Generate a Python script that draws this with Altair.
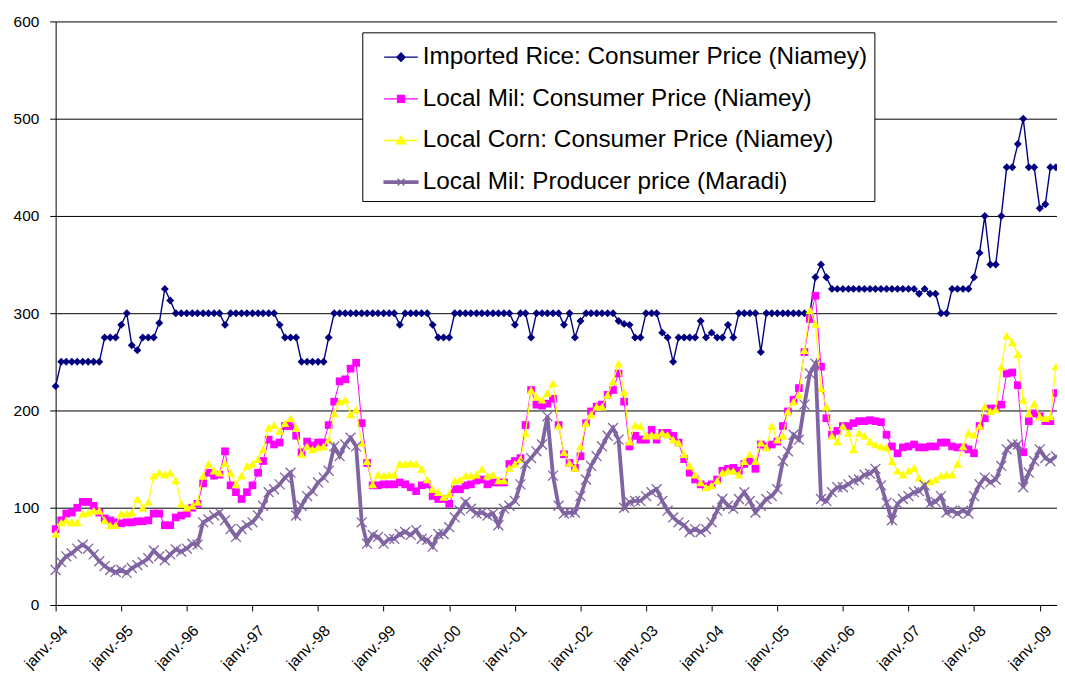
import altair as alt
import pandas as pd

SERIES = [
    "Imported Rice: Consumer Price (Niamey)",
    "Local Mil: Consumer Price (Niamey)",
    "Local Corn: Consumer Price (Niamey)",
    "Local Mil: Producer price (Maradi)",
]
COLORS = ["#000080", "#FF00FF", "#FFFF00", "#8064A2"]

# monthly values, Jan 1994 .. Apr 2009 (one row per year)
RICE = [
    225, 250, 250, 250, 250, 250, 250, 250, 250, 275, 275, 275,
    288, 300, 267, 262, 275, 275, 275, 290, 325, 313, 300, 300,
    300, 300, 300, 300, 300, 300, 300, 288, 300, 300, 300, 300,
    300, 300, 300, 300, 300, 288, 275, 275, 275, 250, 250, 250,
    250, 250, 275, 300, 300, 300, 300, 300, 300, 300, 300, 300,
    300, 300, 300, 288, 300, 300, 300, 300, 300, 288, 275, 275,
    275, 300, 300, 300, 300, 300, 300, 300, 300, 300, 300, 300,
    288, 300, 300, 275, 300, 300, 300, 300, 300, 288, 300, 275,
    292, 300, 300, 300, 300, 300, 300, 292, 289, 288, 275, 275,
    300, 300, 300, 280, 275, 250, 275, 275, 275, 275, 292, 275,
    280, 275, 275, 288, 275, 300, 300, 300, 300, 260, 300, 300,
    300, 300, 300, 300, 300, 300, 300, 337, 350, 337, 325, 325,
    325, 325, 325, 325, 325, 325, 325, 325, 325, 325, 325, 325,
    325, 325, 320, 325, 320, 320, 300, 300, 325, 325, 325, 325,
    337, 362, 400, 350, 350, 400, 450, 450, 474, 500, 450, 450,
    408, 412, 450, 450,
]
MIL_CONSUMER = [
    78, 87, 94, 95, 100, 106, 106, 102, 95, 89, 87, 85,
    84, 85, 85, 86, 86, 87, 94, 94, 82, 82, 90, 92,
    94, 100, 104, 125, 136, 133, 134, 158, 123, 116, 109, 116,
    123, 136, 148, 170, 165, 167, 184, 184, 174, 157, 168, 164,
    167, 167, 185, 209, 230, 232, 243, 249, 187, 146, 123, 123,
    124, 124, 124, 126, 124, 121, 117, 123, 124, 112, 109, 109,
    104, 119, 119, 123, 124, 128, 129, 124, 126, 126, 126, 145,
    148, 151, 185, 221, 206, 205, 207, 212, 185, 155, 146, 141,
    153, 187, 199, 204, 206, 216, 221, 238, 209, 163, 174, 170,
    170, 180, 170, 177, 177, 174, 167, 150, 136, 129, 124, 122,
    124, 129, 138, 140, 141, 138, 145, 148, 140, 165, 163, 165,
    168, 184, 199, 211, 223, 260, 294, 318, 245, 192, 175, 179,
    184, 184, 187, 189, 189, 190, 189, 188, 175, 163, 156, 162,
    163, 165, 162, 162, 163, 163, 167, 167, 163, 162, 162, 160,
    156, 184, 192, 202, 202, 206, 238, 239, 226, 157, 189, 197,
    194, 189, 189, 218,
]
CORN_CONSUMER = [
    73, 85, 87, 85, 85, 94, 95, 97, 97, 87, 82, 82,
    94, 94, 95, 109, 100, 106, 133, 136, 134, 136, 128, 104,
    100, 102, 106, 133, 145, 138, 136, 146, 136, 124, 133, 143,
    145, 150, 160, 182, 185, 179, 187, 192, 182, 155, 163, 160,
    162, 163, 170, 197, 209, 211, 196, 201, 167, 148, 124, 134,
    133, 134, 134, 145, 145, 146, 145, 140, 129, 119, 116, 111,
    114, 128, 129, 133, 133, 134, 140, 133, 134, 128, 128, 141,
    145, 150, 177, 221, 214, 211, 218, 228, 184, 157, 146, 141,
    163, 187, 196, 204, 204, 216, 230, 248, 219, 168, 185, 184,
    174, 175, 174, 177, 175, 170, 167, 155, 143, 134, 126, 121,
    123, 128, 136, 138, 138, 134, 148, 155, 148, 167, 162, 184,
    170, 174, 199, 209, 216, 262, 303, 289, 223, 204, 174, 168,
    184, 177, 160, 177, 174, 168, 165, 163, 162, 148, 138, 134,
    138, 141, 131, 124, 127, 129, 133, 134, 134, 145, 163, 177,
    175, 184, 204, 199, 201, 245, 277, 270, 258, 211, 197, 207,
    194, 192, 194, 245,
]
MIL_PRODUCER = [
    36, 44, 50, 53, 58, 62, 58, 52, 45, 40, 36, 34,
    36, 33, 38, 41, 44, 48, 56, 50, 46, 52, 57, 55,
    58, 63, 62, 85, 88, 92, 95, 87, 78, 70, 78, 82,
    85, 92, 102, 116, 119, 124, 131, 136, 92, 102, 112, 117,
    126, 131, 138, 163, 153, 165, 172, 163, 85, 63, 72, 70,
    63, 68, 68, 73, 75, 72, 77, 68, 67, 60, 73, 73,
    80, 90, 97, 106, 99, 94, 95, 92, 94, 82, 99, 102,
    107, 124, 145, 151, 158, 165, 194, 133, 102, 94, 95, 95,
    112, 129, 143, 153, 163, 174, 182, 170, 100, 106, 107, 107,
    112, 116, 119, 107, 97, 90, 85, 82, 75, 78, 75, 78,
    85, 97, 109, 102, 99, 109, 116, 107, 95, 102, 109, 112,
    119, 148, 158, 175, 170, 206, 238, 248, 109, 107, 116, 121,
    121, 124, 128, 129, 134, 135, 140, 123, 105, 87, 104, 109,
    112, 116, 117, 123, 104, 106, 112, 95, 97, 94, 97, 94,
    112, 124, 131, 126, 129, 143, 160, 165, 165, 121, 136, 148,
    160, 151, 148, 153,
]
TICK_YEARS = list(range(1994, 2010))
TICK_LABELS = ["janv.-%02d" % (y % 100) for y in TICK_YEARS]
Y_TICKS = [0, 100, 200, 300, 400, 500, 600]

MONTHS = pd.date_range("1994-01-01", periods=len(RICE), freq="MS").strftime("%Y-%m-%d").tolist()

rows = []
for name, vals in zip(SERIES, [RICE, MIL_CONSUMER, CORN_CONSUMER, MIL_PRODUCER]):
    assert len(vals) == len(MONTHS), (name, len(vals))
    for d, v in zip(MONTHS, vals):
        rows.append({"date": d, "series": name, "value": v})
df = pd.DataFrame(rows)

FONT = "Liberation Sans"
label_expr = "[" + ",".join("'%s'" % t for t in TICK_LABELS) + "][utcyear(datum.value) - %d]" % TICK_YEARS[0]

x_enc = alt.X(
    "date:T",
    scale=alt.Scale(
        type="utc",
        domain=[alt.DateTime(year=1994, month=1, date=1, utc=True),
                alt.DateTime(year=2009, month=4, date=7, utc=True)],
    ),
    axis=alt.Axis(
        title=None, grid=False,
        values=[alt.DateTime(year=y, month=1, date=1, utc=True) for y in TICK_YEARS],
        labelExpr=label_expr, labelAngle=-45, labelAlign="right", labelBaseline="top",
        labelPadding=12, labelOffset=4, labelFontSize=15.5, labelFont=FONT, labelColor="black",
        labelFlush=False, labelOverlap=False,
        tickSize=6, tickColor="black", domainColor="black", domainWidth=1,
    ),
)
y_enc = alt.Y(
    "value:Q",
    scale=alt.Scale(domain=[0, 600], nice=False, zero=True),
    axis=alt.Axis(
        title=None, values=Y_TICKS, grid=True, gridColor="black", gridWidth=1, gridOpacity=1,
        labelFontSize=15.5, labelFont=FONT, labelColor="black", labelPadding=11,
        tickSize=6, tickColor="black", domainColor="black", domainWidth=1,
    ),
)

line_widths = [1.4, 1.0, 1.2, 3.8]
point_shapes = ["diamond", "square", "triangle-up", "M-1,-1L1,1M-1,1L1,-1"]
point_sizes = [64, 60, 80, 100]
point_filled = [True, True, True, False]

layers = []
for name, col, lw, shp, sz, fl in zip(SERIES, COLORS, line_widths, point_shapes, point_sizes, point_filled):
    base = alt.Chart(df).transform_filter(alt.datum.series == name)
    layers.append(base.mark_line(color=col, strokeWidth=lw).encode(x=x_enc, y=y_enc))
    if fl:
        pm = base.mark_point(shape=shp, size=sz, filled=True, color=col, opacity=1, strokeWidth=0)
    else:
        pm = base.mark_point(shape=shp, size=sz, filled=False, color=col, opacity=1, strokeWidth=1.3)
    layers.append(pm.encode(x=x_enc, y=y_enc))

# legend symbols: a line segment with the series marker in the middle
LEGEND_PATHS = [
    "M-1,0L1,0M0,-0.24L0.24,0L0,0.24L-0.24,0Z",
    "M-1,0L1,0M-0.2,-0.2L0.2,-0.2L0.2,0.2L-0.2,0.2Z",
    "M-1,0L1,0M0,-0.26L0.27,0.2L-0.27,0.2Z",
    "M-1,-0.07L1,-0.07L1,0.07L-1,0.07ZM-0.2,-0.2L0.2,0.2M-0.2,0.2L0.2,-0.2",
]
leg = alt.Legend(
    title=None, orient="none", legendX=309, legendY=11, direction="vertical",
    padding=7, strokeColor="black", fillColor="white", cornerRadius=0,
    labelFontSize=24.5, labelFont=FONT, labelColor="black", labelLimit=700,
    labelOffset=4, rowPadding=12, symbolSize=1156, symbolStrokeWidth=1.4,
    symbolOffset=14, symbolOpacity=1,
)
legend_layer = (
    alt.Chart(df)
    .transform_filter("datum.value < 0")
    .mark_point(size=1156, opacity=1, strokeWidth=1.4)
    .encode(
        shape=alt.Shape("series:N", scale=alt.Scale(domain=SERIES, range=LEGEND_PATHS), legend=leg),
        fill=alt.Fill("series:N", scale=alt.Scale(domain=SERIES, range=COLORS), legend=leg),
        stroke=alt.Stroke("series:N", scale=alt.Scale(domain=SERIES, range=COLORS), legend=leg),
    )
)
layers.append(legend_layer)

chart = (
    alt.layer(*layers)
    .properties(
        width=1009, height=588,
        autosize=alt.AutoSizeParams(type="none"),
        padding={"left": 48, "top": 11, "right": 0, "bottom": 64},
        background="white",
    )
    .configure_view(stroke=None)
)

chart.save("out.html", embed_options={"renderer": "svg", "actions": False})
